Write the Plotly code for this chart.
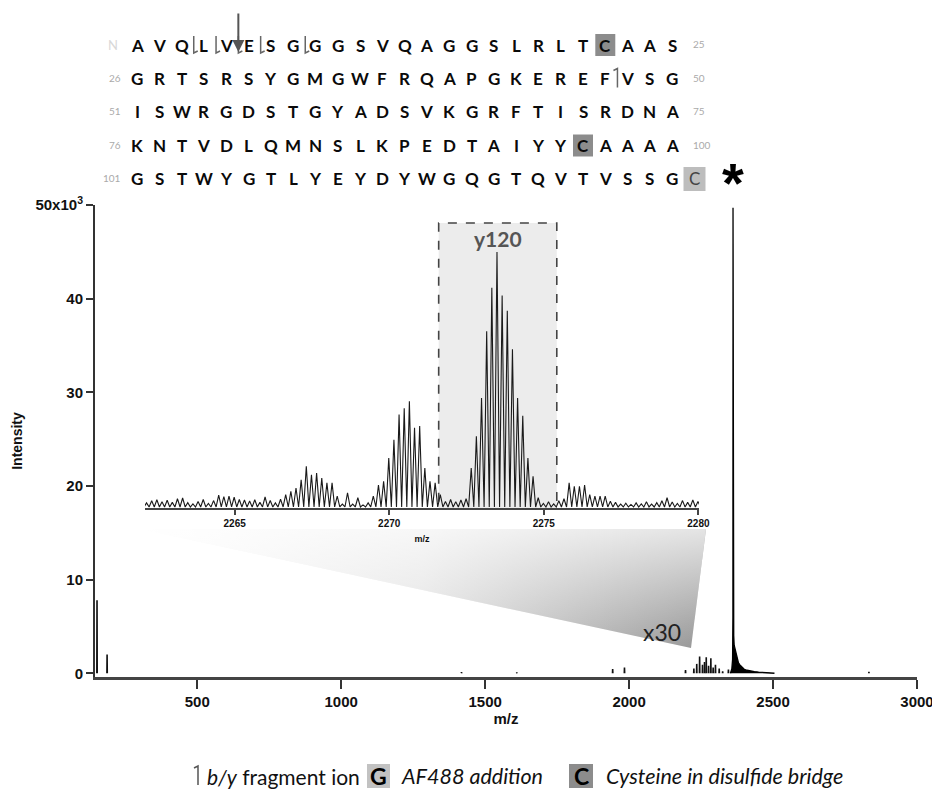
import plotly.graph_objects as go

# The page body adds an 8px offset; positions below are given in screenshot pixels.
OFF = 8
W, H = 932, 787
PL, PR, PT, PB = 95, 917, 205, 677          # plot area edges in screenshot pixels
PW, PH = PR - PL, PB - PT

# ---------------- data ----------------
SEQ_ROWS = [
    "AVQLVESGGGSVQAGGSLRLTCAAS",
    "GRTSRSYGMGWFRQAPGKEREFVSG",
    "ISWRGDSTGYADSVKGRFTISRDNA",
    "KNTVDLQMNSLKPEDTAIYYCAAAA",
    "GSTWYGTLYEYDYWGQGTQVTVSSG",
]
ROW_START = [1, 26, 51, 76, 101]
ROW_END = [25, 50, 75, 100, None]
DISULFIDE_CYS = [22, 96]
AF488_RESIDUE = "C"
B_ION_CLEAVAGES = [3, 4, 5, 6, 8]
Y_ION_CLEAVAGES = [47]
ARROW_CLEAVAGE = 5

MAIN_X_TICKS = [500, 1000, 1500, 2000, 2500, 3000]
MAIN_Y_TICKS = [0, 10000, 20000, 30000, 40000, 50000]
MAIN_Y_LABELS = ["0", "10", "20", "30", "40", "50x10<sup>3</sup>"]

MAIN_MZ = [152, 187, 1418, 1610, 1943, 1984, 2196, 2225, 2235, 2245, 2255,
           2262, 2268, 2276, 2284, 2292, 2300, 2313, 2325, 2345, 2833]
MAIN_INT = [7800, 2000, 120, 80, 450, 600, 350, 500, 1000, 1800, 900,
            1200, 1700, 800, 1600, 600, 900, 500, 200, 400, 150]

TAIL_MZ = [2352, 2357, 2359.5, 2360.6, 2361, 2361.5, 2362.5, 2363.5, 2365, 2368,
           2372, 2376, 2380, 2385, 2390, 2395, 2400, 2410, 2420, 2435, 2450,
           2470, 2490, 2505]
TAIL_INT = [0, 500, 1500, 6000, 49700, 12000, 9500, 4000, 3000, 2600,
            2000, 1500, 1100, 900, 700, 550, 420, 320, 250, 180, 130,
            80, 40, 0]

INSET_MZ_START = 2262.15
INSET_MZ_STEP = 0.1667
INSET_INT = [
    2.0, 2.8, 3.2, 2.4, 3.0, 2.2, 3.6, 3.9, 2.1, 1.6,
    2.5, 3.3, 1.8, 2.9, 5.0, 4.4, 4.6, 4.2, 3.3, 3.1,
    2.7, 3.2, 2.2, 4.3, 2.9, 2.0, 3.4, 5.2, 6.5, 7.8,
    11.0, 16.3, 13.0, 13.7, 11.7, 9.8, 9.8, 4.6, 1.5, 5.9,
    1.5, 4.0, 1.2, 2.0, 4.6, 9.0, 10.4, 19.5, 26.7, 36.5,
    39.0, 41.7, 31.3, 32.0, 15.6, 10.4, 9.8, 5.2, 2.5, 3.3,
    2.4, 3.1, 3.6, 15.6, 28.0, 43.0, 69.0, 86.0, 100.0, 83.0,
    77.0, 62.0, 43.0, 36.0, 19.5, 12.4, 4.0, 1.8, 2.4, 1.6,
    2.8, 3.6, 9.8, 8.5, 8.5, 9.0, 5.2, 4.6, 4.6, 4.6,
    2.6, 2.2, 1.5, 1.9, 1.4, 2.0, 1.6, 2.4, 1.5, 2.1,
    2.8, 4.0, 2.3, 1.8, 2.9, 2.2, 3.1, 2.5,
]
INSET_TICKS = [2265, 2270, 2275, 2280]
Y120_RANGE = [2271.6, 2275.42]

X_RANGE = [145, 3000]
Y_RANGE = [-400, 50000]

# ---------------- helpers ----------------
def px(x):
    return (x - PL) / PW

def py(y):
    return (PB - y) / PH

def dx(xs):
    return X_RANGE[0] + (xs - PL) / PW * (X_RANGE[1] - X_RANGE[0])

def dy(ys):
    return Y_RANGE[0] + (PB - ys) / PH * (Y_RANGE[1] - Y_RANGE[0])

annotations = []
shapes = []

def txt(x, y, s, size, color="#111", weight="normal", family="Lato",
        xanchor="center", yanchor="middle"):
    annotations.append(dict(
        x=px(x), y=py(y), xref="paper", yref="paper", text=s, showarrow=False,
        font=dict(family=family, size=size, color=color, weight=weight),
        xanchor=xanchor, yanchor=yanchor))

def path(pts, color="#666", width=1.5):
    d = "M " + " L ".join(f"{px(a):.5f},{py(b):.5f}" for a, b in pts)
    shapes.append(dict(type="path", xref="paper", yref="paper", path=d,
                       line=dict(color=color, width=width)))

def box(x0, y0, x1, y1, fill):
    shapes.append(dict(type="rect", xref="paper", yref="paper",
                       x0=px(x0), x1=px(x1), y0=py(y1), y1=py(y0),
                       fillcolor=fill, layer="below", line=dict(width=0)))

fig = go.Figure()

# zoom wedge (horizontal grey gradient + vertical white veil)
WX = [dx(140), dx(706), dx(691), dx(140)]
WY = [dy(529), dy(529), dy(648), dy(529)]
fig.add_trace(go.Scatter(
    x=WX, y=WY, mode="lines", fill="toself", line=dict(width=0),
    fillgradient=dict(type="horizontal",
                      colorscale=[[0, "rgb(255,255,255)"], [0.5, "rgb(225,225,225)"],
                                  [1, "rgb(150,150,150)"]]),
    hoverinfo="skip", showlegend=False))
fig.add_trace(go.Scatter(
    x=WX, y=WY, mode="lines", fill="toself", line=dict(width=0),
    fillgradient=dict(type="vertical",
                      colorscale=[[0, "rgba(255,255,255,0)"], [1, "rgba(255,255,255,0.75)"]]),
    hoverinfo="skip", showlegend=False))

# main stick spectrum
sx, sy = [], []
for m, v in zip(MAIN_MZ, MAIN_INT):
    sx += [m - 0.6, m, m + 0.6, None]
    sy += [0, v, 0, None]
fig.add_trace(go.Scatter(x=sx, y=sy, mode="lines", line=dict(color="#111", width=1.6),
                         showlegend=False, hoverinfo="skip"))
fig.add_trace(go.Scatter(x=TAIL_MZ, y=TAIL_INT, mode="lines", fill="tozeroy",
                         fillcolor="#000", line=dict(color="#000", width=1.3),
                         showlegend=False, hoverinfo="skip"))

# inset spectrum
ix, iy = [], []
for i, v in enumerate(INSET_INT):
    m = INSET_MZ_START + INSET_MZ_STEP * i
    ix += [m - INSET_MZ_STEP / 2, m]
    iy += [0.4, v]
ix.append(INSET_MZ_START + INSET_MZ_STEP * (len(INSET_INT) - 0.5))
iy.append(0.4)
fig.add_trace(go.Scatter(x=ix, y=iy, xaxis="x2", yaxis="y2", mode="lines",
                         line=dict(color="#1a1a1a", width=1.1),
                         showlegend=False, hoverinfo="skip"))

# y120 box
shapes.append(dict(type="rect", xref="x2", yref="paper",
                   x0=Y120_RANGE[0], x1=Y120_RANGE[1], y0=py(509), y1=py(223),
                   fillcolor="#ececec", layer="below",
                   line=dict(color="#444", width=1.6, dash="dash")))
annotations.append(dict(x=sum(Y120_RANGE) / 2, y=py(238), xref="x2", yref="paper",
                        text="y120", showarrow=False, xanchor="center", yanchor="middle",
                        font=dict(family="Lato", size=21, color="#555", weight="bold")))

# x30 and asterisk
txt(662, 632, "x30", 23, color="#222")
txt(733, 183, "*", 56, color="#000", weight="bold", family="Liberation Sans")

# ---------------- sequence ----------------
X0, DXL = 137, 22.3
ROW_Y = [45, 78.5, 112, 145.5, 179]
txt(113, ROW_Y[0], "N", 13, color="#d8d8d8")
for r, seq in enumerate(SEQ_ROWS):
    y = ROW_Y[r]
    if r > 0:
        txt(123, y - 1, str(ROW_START[r]), 10, color="#aaa", xanchor="right")
    if ROW_END[r] is not None:
        txt(691, y - 1, str(ROW_END[r]), 10, color="#aaa", xanchor="left")
    for i, ch in enumerate(seq):
        res = ROW_START[r] + i
        x = X0 + DXL * i
        if res in DISULFIDE_CYS:
            box(x - 10, y - 11, x + 10, y + 11, "#8c8c8c")
        txt(x, y, ch, 17, color="#0a0a0a", weight="bold")
# AF488 C-terminal residue
xc = X0 + DXL * 25
box(xc - 11, ROW_Y[4] - 12, xc + 11, ROW_Y[4] + 12, "#bdbdbd")
txt(xc, ROW_Y[4], AF488_RESIDUE, 17, color="#444")

for c in B_ION_CLEAVAGES:
    r = (c - 1) // 25
    i = c - ROW_START[r]
    x = X0 + DXL * (i + 0.5) + 1
    y = ROW_Y[r]
    path([(x, y - 9), (x, y + 8), (x + 4, y + 6)])
for c in Y_ION_CLEAVAGES:
    r = (c - 1) // 25
    i = c - ROW_START[r]
    x = X0 + DXL * (i + 0.5) + 1
    y = ROW_Y[r]
    path([(x - 4, y - 8), (x, y - 10), (x, y + 9)])

# arrow
ai = ARROW_CLEAVAGE - 1
annotations.append(dict(x=px(X0 + DXL * (ai + 0.5) + 1), y=py(52), xref="paper", yref="paper",
                        ax=0, ay=-40, text="", showarrow=True, arrowhead=2,
                        arrowsize=1.2, arrowwidth=2, arrowcolor="#555"))

# ---------------- bottom legend ----------------
LY = 776
path([(194, LY - 8), (198, LY - 10), (198, LY + 9)], color="#555", width=1.5)
txt(362, LY, "<i>b/y</i> fragment ion", 21, color="#111", xanchor="right")
box(367, LY - 12, 390, LY + 12, "#c2c2c2")
txt(378.5, LY, "G", 23, color="#000", weight="bold")
txt(399, LY, "<i>AF488 addition</i>", 21.5, color="#111", xanchor="left")
box(569, LY - 12, 593, LY + 12, "#8c8c8c")
txt(581, LY, "C", 23, color="#000", weight="bold")
txt(604, LY, "<i>Cysteine in disulfide bridge</i>", 21.5, color="#111", xanchor="left")

AX_FONT = dict(family="Liberation Sans", size=15, color="#111", weight="bold")

fig.update_layout(
    width=W, height=H,
    margin=dict(l=PL - OFF, r=W - (PR - OFF), t=PT - OFF, b=H - (PB - OFF), autoexpand=False),
    paper_bgcolor="white", plot_bgcolor="rgba(0,0,0,0)",
    showlegend=False,
    xaxis=dict(range=X_RANGE, tickvals=MAIN_X_TICKS, ticks="outside", ticklen=9,
               tickwidth=2, tickcolor="#333", showline=True, linewidth=2.5,
               linecolor="#444", showgrid=False, zeroline=False, tickfont=AX_FONT,
               title=dict(text="m/z", font=AX_FONT, standoff=0)),
    yaxis=dict(range=Y_RANGE, tickvals=MAIN_Y_TICKS, ticktext=MAIN_Y_LABELS,
               ticks="outside", ticklen=7, tickwidth=2, tickcolor="#333",
               showline=True, linewidth=2, linecolor="#333", showgrid=False,
               zeroline=False, tickfont=AX_FONT,
               title=dict(text="Intensity", font=dict(family="Liberation Sans", size=14,
                                                      color="#111", weight="bold"),
                          standoff=10)),
    xaxis2=dict(domain=[px(145), px(699)], anchor="y2", range=[2262.1, 2280.02],
                tickvals=INSET_TICKS, ticks="outside", ticklen=5, tickwidth=1.5,
                tickcolor="#444", showline=True, linewidth=1.5, linecolor="#444",
                showgrid=False, zeroline=False,
                tickfont=dict(family="Liberation Sans", size=10, color="#111", weight="bold"),
                title=dict(text="m/z", font=dict(family="Liberation Sans", size=9,
                                                 color="#111", weight="bold"), standoff=8)),
    yaxis2=dict(domain=[py(508), py(252)], anchor="x2", range=[0, 100], visible=False),
    annotations=annotations,
    shapes=shapes,
)

fig.write_html("out.html")
